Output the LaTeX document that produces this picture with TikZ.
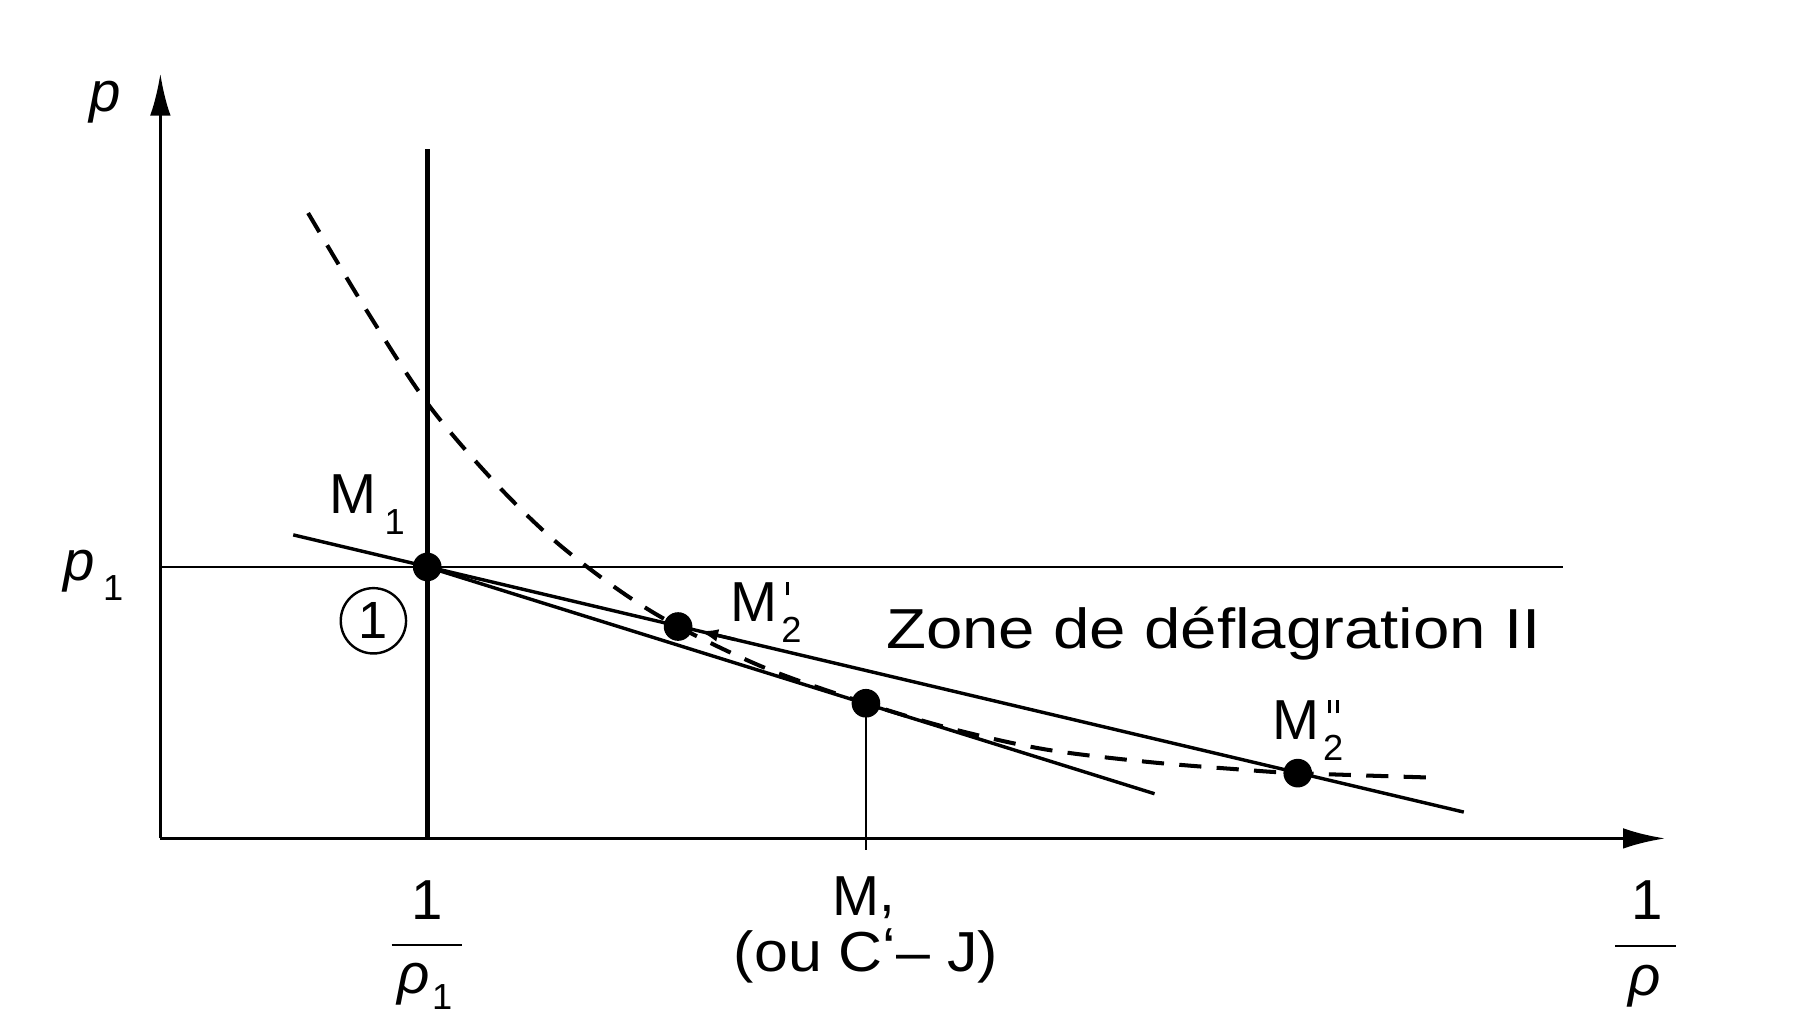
\documentclass[tikz,border=0pt]{standalone}
\usepackage{fontspec}
\setmainfont{Liberation Sans}
\newfontfamily\widefont[FakeStretch=1.16]{Liberation Sans}
\newfontfamily\midfont[FakeStretch=1.08]{Liberation Sans}
\usetikzlibrary{arrows.meta}
\newcommand{\subsup}[2]{\rlap{\kern1.2pt\raisebox{6.6pt}{#2}}\raisebox{-5.2pt}{\fontsize{9}{9}\selectfont #1}}
\newcommand{\onetick}{\rule{0.8pt}{3.3pt}}
\newcommand{\twotick}{\rule{0.8pt}{3.3pt}\kern1.1pt\rule{0.8pt}{3.3pt}}
\newcommand{\lowsub}[2]{\raisebox{-#1}{\fontsize{9}{9}\selectfont #2}}
\begin{document}
\begin{tikzpicture}[x=0.01cm,y=0.01cm,
  axis/.style={line width=0.85pt,-{Latex[length=0.37cm,width=0.18cm]}},
  guide/.style={line width=0.7pt},
  thickguide/.style={line width=1.25pt},
  rayleigh/.style={line width=0.85pt},
  thinline/.style={line width=0.4pt},
  hugo/.style={line width=1pt,dash pattern=on 5.5pt off 3.8pt},
  bar/.style={line width=0.6pt},
  dot/.style={circle,fill=black,inner sep=0pt,minimum size=0.25cm},
  lbl/.style={font=\fontsize{14}{16}\selectfont,inner sep=0pt},
  ]
\useasboundingbox (0,0) rectangle (1568,897);
% axes
\coordinate (O) at (140,165);
\coordinate (Ytip) at (140,833);
\coordinate (Xtip) at (1454,165);
\draw[axis] (O) -- (Ytip);
\draw[axis] (O) -- (Xtip);
% guides
\coordinate (Vtop) at (373,767);
\coordinate (Vbot) at (373,165);
\draw[thickguide] (Vbot) -- (Vtop);
\coordinate (Hl) at (140,402);
\coordinate (Hr) at (1365,402);
\draw[guide] (Hl) -- (Hr);
% points
\coordinate (cM1) at (373,402);
\coordinate (cM2p) at (592,350);
\coordinate (cM) at (756,283);
\coordinate (cM2s) at (1133,222);
\coordinate (Mfoot) at (756,155);
\draw[thinline] (cM) -- (Mfoot);
% Rayleigh lines
\coordinate (UL) at (256,430);
\coordinate (UR) at (1278,188);
\coordinate (LR) at (1008,204);
\draw[rayleigh] (UL) -- (UR);
\draw[rayleigh] (cM1) -- (LR);
% small arrow on the upper line towards M2'
\coordinate (Aa) at (642,338.6);
\coordinate (Ab) at (610,346.2);
\draw[rayleigh,-{Latex[length=0.17cm,width=0.11cm]}] (Aa) -- (Ab);
% Hugoniot curve
\draw[hugo] plot[smooth,tension=0.55] coordinates {(269,711) (320,626) (373,545) (430,478) (483,426) (540,382) (592,350) (670,313) (756,283) (830,261) (911,243) (1000,232) (1085,225) (1133,222) (1253,218)};
% dots
\node[dot] (M1) at (cM1) {};
\node[dot] (M2p) at (cM2p) {};
\node[dot] (M) at (cM) {};
\node[dot] (M2s) at (cM2s) {};
% labels
\node[lbl,anchor=base] (lp) at (92,800) {\textit{p}};
\node[lbl,anchor=base west] (lp1) at (55,390) {\textit{p}\kern2pt\lowsub{4.8pt}{1}};
\node[lbl,anchor=base west] (lM1) at (287,449) {M\kern2pt\lowsub{5.4pt}{1}};
\node[draw,circle,line width=0.6pt,minimum size=0.57cm,inner sep=0pt,font=\fontsize{13}{13}\selectfont] (c1) at (326,355) {1};
\node[lbl,anchor=base west] (lM2p) at (637,354) {M\kern1pt\subsup{2}{\onetick}};
\node[lbl,anchor=base west] (zone) at (773,331) {\widefont Zone de déflagration II};
\node[lbl,anchor=base west] (lM2s) at (1110,251) {M\kern1pt\subsup{2}{\twotick}};
\node[lbl,anchor=base west] (lM) at (726,98) {M\raisebox{1pt}{,}};
\node[lbl,anchor=base] (lCJ) at (756,49) {\midfont (ou C\raisebox{1pt}{‘}– J)};
% fraction 1/rho1
\node[lbl,anchor=base] (f1n) at (373,94) {1};
\coordinate (b1l) at (342,72);
\coordinate (b1r) at (403,72);
\draw[bar] (b1l) -- (b1r);
\node[lbl,anchor=base] (f1d) at (371,30) {\textit{ρ}\kern0.5pt\lowsub{4pt}{1}};
% fraction 1/rho
\node[lbl,anchor=base] (f2n) at (1438,94) {1};
\coordinate (b2l) at (1410,71);
\coordinate (b2r) at (1463,71);
\draw[bar] (b2l) -- (b2r);
\node[lbl,anchor=base] (f2d) at (1436,28) {\textit{ρ}};
\end{tikzpicture}
\end{document}
